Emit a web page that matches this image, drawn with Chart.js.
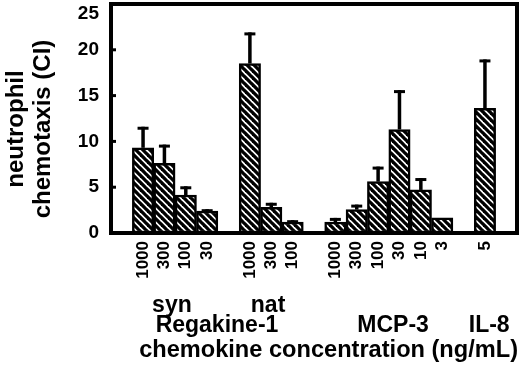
<!DOCTYPE html>
<html><head><meta charset="utf-8">
<script src="https://cdn.jsdelivr.net/npm/chart.js@4/dist/chart.umd.min.js"></script>
<style>html,body{margin:0;padding:0;background:#fff}</style>
</head><body>
<canvas id="c" width="520" height="372"></canvas>
<script>
// ---- data (empty entries are the gaps between groups) ----
const tickLabels = ['', '1000','300','100','30', '', '1000','300','100', '', '1000','300','100','30','10','3', '', '5', ''];
const meanCI     = [null, 9.3, 7.6, 4.15, 2.4, null, 18.5, 2.8, 1.2, null, 1.2, 2.55, 5.6, 11.3, 4.7, 1.65, null, 13.6, null];
const errorUpper = [null, 11.6, 9.65, 5.1, 2.6, null, 21.9, 3.3, 1.4, null, 1.65, 3.1, 7.25, 15.6, 6.0, null, null, 18.95, null];
const groupNames = ['syn', 'nat', 'Regakine-1', 'MCP-3', 'IL-8'];
const yTitle = ['neutrophil', 'chemotaxis (CI)'];
const xTitle = 'chemokine concentration (ng/mL)';

// ---- layout of the group captions (category index, baseline y) ----
const groupPos = [[2.35, 312], [6.85, 312], [4.46, 332], [12.7, 332], [17.2, 332]];

const FONT = "'Liberation Sans', Arial, Helvetica, sans-serif";

function makeHatch() {
  const s = 7;
  const p = document.createElement('canvas');
  p.width = s; p.height = s;
  const g = p.getContext('2d');
  g.fillStyle = '#fff'; g.fillRect(0, 0, s, s);
  g.strokeStyle = '#000'; g.lineWidth = 3.3; g.lineCap = 'square';
  for (let k = -1; k <= 1; k++) {
    g.beginPath(); g.moveTo(k * s, 0); g.lineTo(k * s + s, s); g.stroke();
  }
  return document.getElementById('c').getContext('2d').createPattern(p, 'repeat');
}

const decor = {
  id: 'decor',
  afterDatasetsDraw(chart) {
    const {ctx, chartArea: a, scales: {x, y}} = chart;
    ctx.save();
    ctx.strokeStyle = '#000';
    ctx.lineCap = 'butt';
    // error bars (upper only)
    errorUpper.forEach((e, i) => {
      if (e == null || meanCI[i] == null) return;
      const px = x.getPixelForValue(i);
      const y0 = y.getPixelForValue(meanCI[i]);
      const y1 = y.getPixelForValue(e);
      ctx.lineWidth = 3.5;
      ctx.beginPath(); ctx.moveTo(px, y0); ctx.lineTo(px, y1); ctx.stroke();
      ctx.lineWidth = 3;
      ctx.beginPath(); ctx.moveTo(px - 5.5, y1 + 1.5); ctx.lineTo(px + 5.5, y1 + 1.5); ctx.stroke();
    });
    // frame
    ctx.lineWidth = 4;
    ctx.strokeRect(a.left, a.top, a.right - a.left, a.bottom - a.top);
    // inward ticks on the y axis
    ctx.lineWidth = 3;
    y.ticks.forEach(t => {
      const py = y.getPixelForValue(t.value);
      ctx.beginPath(); ctx.moveTo(a.left, py); ctx.lineTo(a.left + 5, py); ctx.stroke();
    });
    ctx.fillStyle = '#000';
    // group captions
    ctx.font = 'bold 23px ' + FONT;
    ctx.textAlign = 'center';
    ctx.textBaseline = 'alphabetic';
    groupNames.forEach((n, i) => {
      ctx.fillText(n, x.getPixelForValue(groupPos[i][0]), groupPos[i][1]);
    });
    // x axis title
    ctx.font = 'bold 23.6px ' + FONT;
    ctx.textAlign = 'right';
    ctx.fillText(xTitle, 518, 357);
    // y axis title (two lines, rotated)
    ctx.font = 'bold 24px ' + FONT;
    ctx.textAlign = 'center';
    ctx.textBaseline = 'middle';
    const ys = [16, 43];
    yTitle.forEach((t, i) => {
      ctx.save();
      ctx.translate(ys[i], 129);
      ctx.rotate(-Math.PI / 2);
      ctx.fillText(t, 0, 0);
      ctx.restore();
    });
    ctx.restore();
  }
};

new Chart(document.getElementById('c'), {
  type: 'bar',
  data: {
    labels: tickLabels,
    datasets: [{
      data: meanCI,
      backgroundColor: makeHatch(),
      borderColor: '#000',
      borderWidth: 2.5,
      borderSkipped: false,
      barPercentage: 1,
      categoryPercentage: 1
    }]
  },
  options: {
    responsive: false,
    devicePixelRatio: 1,
    animation: false,
    layout: {padding: {top: 4, right: 3, left: 0, bottom: 0}},
    plugins: {legend: {display: false}, tooltip: {enabled: false}},
    scales: {
      x: {
        type: 'category',
        grid: {display: false, drawTicks: false},
        border: {display: false},
        ticks: {
          autoSkip: false, maxRotation: 90, minRotation: 90, padding: 8,
          color: '#000', font: {family: FONT, size: 17, weight: 'bold'}
        },
        afterFit(s) { s.height = 139; s.paddingLeft = 0; s.paddingRight = 0; }
      },
      y: {
        min: 0, max: 25,
        grid: {display: false, drawTicks: false},
        border: {display: false},
        ticks: {
          stepSize: 5, padding: 12, color: '#000',
          font: {family: FONT, size: 19, weight: 'bold', lineHeight: 1.0},
          callback: (v) => v === 25 ? ['', String(v)] : String(v)
        },
        afterFit(s) { s.width = 111; s.paddingTop = 0; s.paddingBottom = 0; }
      }
    }
  },
  plugins: [decor]
});
</script>
</body></html>
